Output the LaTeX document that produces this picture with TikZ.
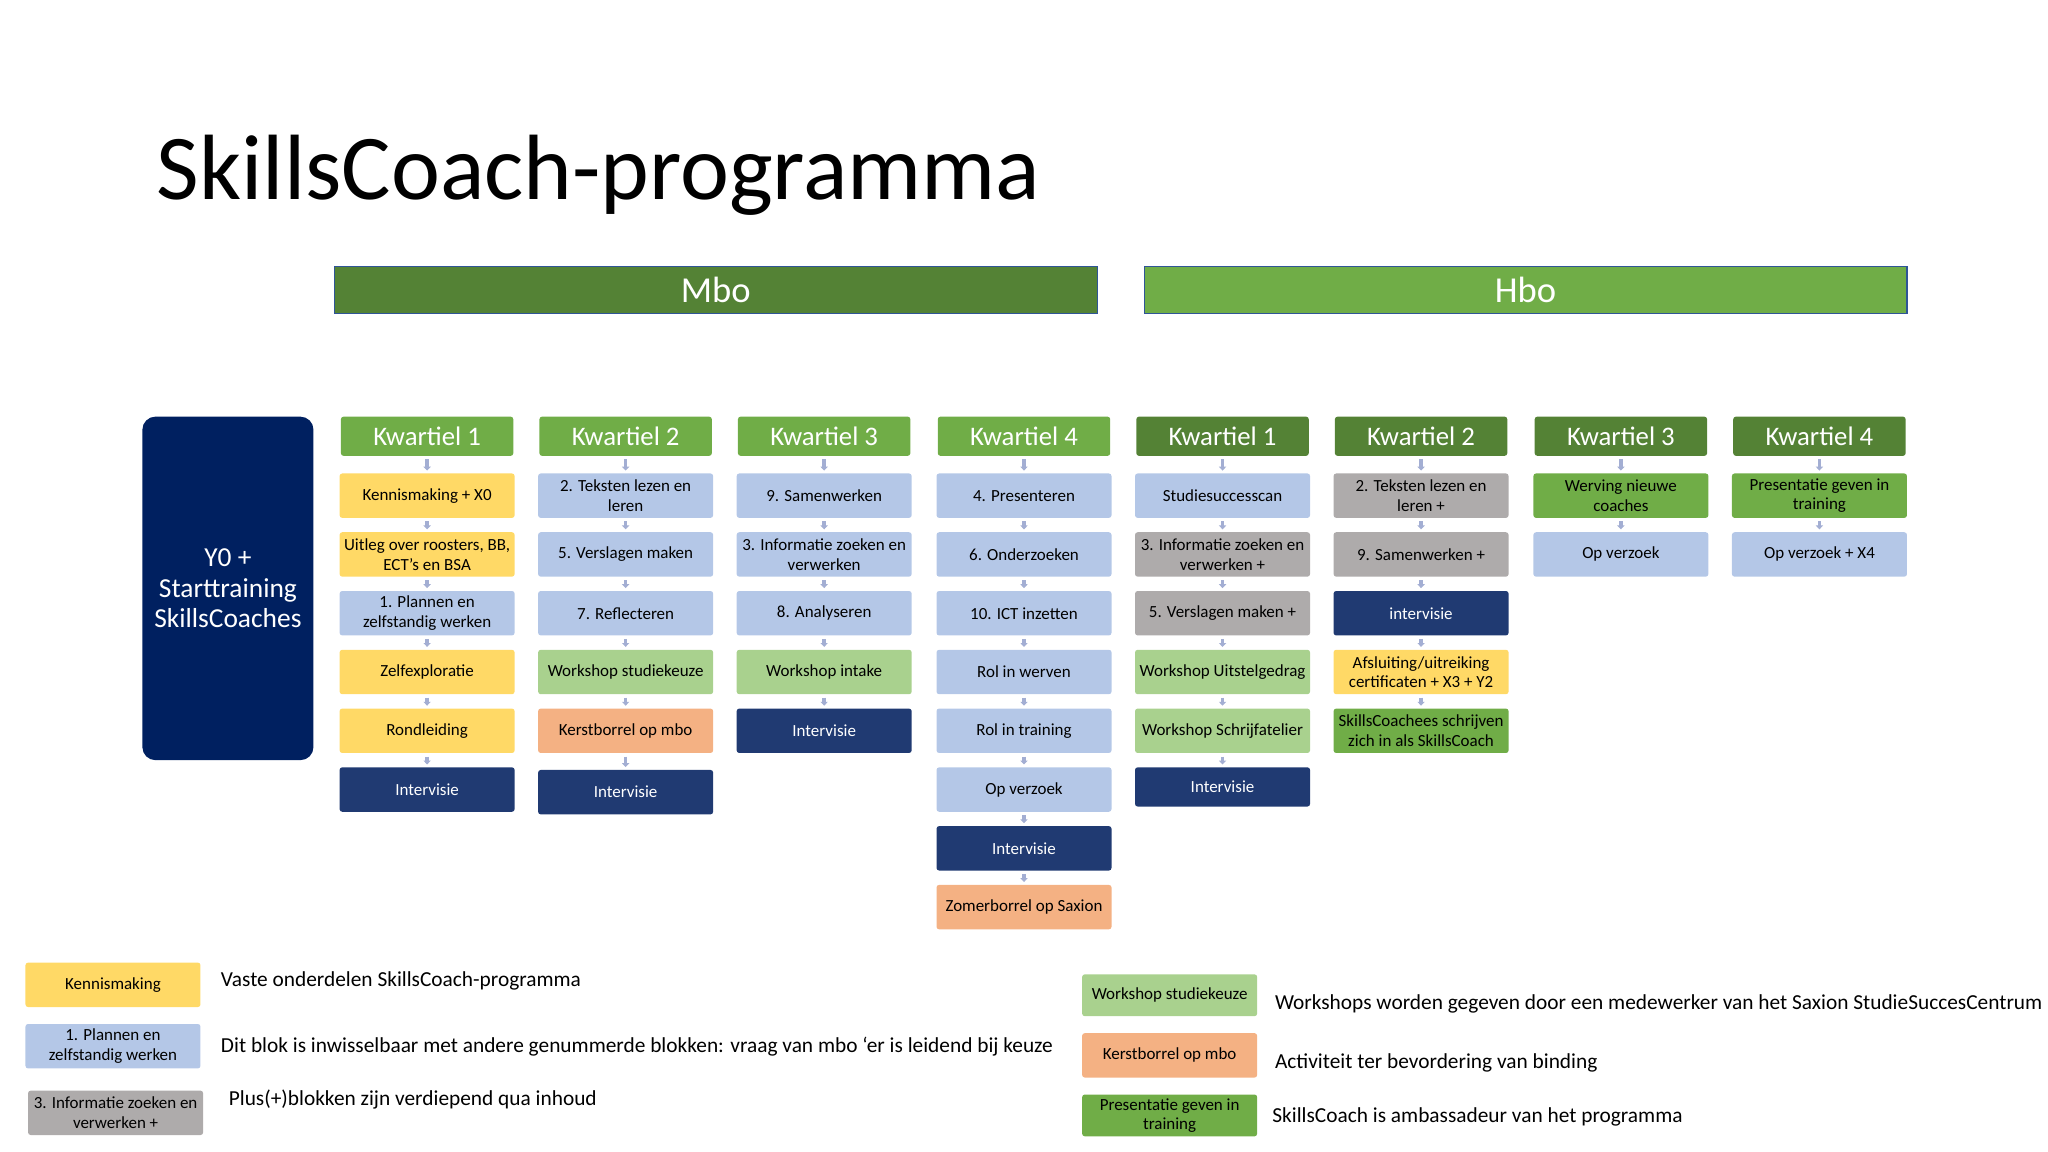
\documentclass[tikz,border=0pt]{standalone}
\usepackage{fontspec}
\setmainfont{Carlito}
\usetikzlibrary{arrows.meta}

\definecolor{geel}{HTML}{FFD966}
\definecolor{blauw}{HTML}{B4C7E7}
\definecolor{grijs}{HTML}{AEABAB}
\definecolor{lichtgroen}{HTML}{A9D18E}
\definecolor{zalm}{HTML}{F4B183}
\definecolor{groen}{HTML}{70AD47}
\definecolor{donkergroen}{HTML}{548235}
\definecolor{donkerblauw}{HTML}{203A72}
\definecolor{marine}{HTML}{002060}
\definecolor{pijlkleur}{HTML}{A3AED3}
\definecolor{rand}{HTML}{2F5597}

\tikzset{
  blok/.style={rectangle, rounded corners=2pt, minimum width=134pt, minimum height=34pt,
    inner sep=1pt, align=center, font=\fontsize{13}{15}\selectfont},
  intervisie/.style={blok, fill=donkerblauw, text=white},
  kop/.style={rectangle, rounded corners=2pt, minimum width=132pt, minimum height=30pt,
    inner sep=1pt, text=white, font=\fontsize{20.5}{22}\selectfont},
  balk/.style={rectangle, draw=rand, line width=1pt, minimum width=584pt, minimum height=36pt,
    text=white, font=\fontsize{28}{30}\selectfont},
  pijl/.style={pijlkleur, line width=2.6pt, -{Triangle[width=5.5pt,length=3pt]},
    shorten <=2.5pt, shorten >=2pt},
  uitleg/.style={anchor=west, inner sep=0pt, font=\fontsize{16.35}{18}\selectfont}
}

\begin{document}
\begin{tikzpicture}[x=1pt,y=-1pt]
    \useasboundingbox (0,0) rectangle (1568,882);

    % Titel
    \node[anchor=base west, inner sep=0pt, font=\fontsize{71}{80}\selectfont] (titel) at (120,153) {SkillsCoach-programma};

    % Mbo en Hbo
    \node[balk, fill=donkergroen] (mbo) at (548,222) {Mbo};
    \node[balk, fill=groen] (hbo) at (1168,222) {Hbo};

    % Startblok
    \node[rectangle, rounded corners=10pt, fill=marine, minimum width=131pt, minimum height=263pt,
        text=white, align=center, font=\fontsize{21}{23.5}\selectfont] (start) at (174.5,450.5)
        {Y0 +\\Starttraining\\SkillsCoaches};

    % Mbo kwartiel 1
    \node[kop, fill=groen] (mk1) at (327,334) {Kwartiel 1};
    \node[blok, fill=geel] (m1a) at (327,379.5) {Kennismaking + X0};
    \node[blok, fill=geel] (m1b) at (327,424.5) {Uitleg over roosters, BB,\\ECT's en BSA};
    \node[blok, fill=blauw] (m1c) at (327,469.5) {1. Plannen en\\zelfstandig werken};
    \node[blok, fill=geel] (m1d) at (327,514.5) {Zelfexploratie};
    \node[blok, fill=geel] (m1e) at (327,559.5) {Rondleiding};
    \node[intervisie] (m1f) at (327,604.5) {Intervisie};
    \draw[pijl] (mk1) -- (m1a);
    \draw[pijl] (m1a) -- (m1b);
    \draw[pijl] (m1b) -- (m1c);
    \draw[pijl] (m1c) -- (m1d);
    \draw[pijl] (m1d) -- (m1e);
    \draw[pijl] (m1e) -- (m1f);

    % Mbo kwartiel 2
    \node[kop, fill=groen] (mk2) at (479,334) {Kwartiel 2};
    \node[blok, fill=blauw] (m2a) at (479,379.5) {2. Teksten lezen en\\leren};
    \node[blok, fill=blauw] (m2b) at (479,424.5) {5. Verslagen maken};
    \node[blok, fill=blauw] (m2c) at (479,469.5) {7. Reflecteren};
    \node[blok, fill=lichtgroen] (m2d) at (479,514.5) {Workshop studiekeuze};
    \node[blok, fill=zalm] (m2e) at (479,559.5) {Kerstborrel op mbo};
    \node[intervisie] (m2f) at (479,606.5) {Intervisie};
    \draw[pijl] (mk2) -- (m2a);
    \draw[pijl] (m2a) -- (m2b);
    \draw[pijl] (m2b) -- (m2c);
    \draw[pijl] (m2c) -- (m2d);
    \draw[pijl] (m2d) -- (m2e);
    \draw[pijl] (m2e) -- (m2f);

    % Mbo kwartiel 3
    \node[kop, fill=groen] (mk3) at (631,334) {Kwartiel 3};
    \node[blok, fill=blauw] (m3a) at (631,379.5) {9. Samenwerken};
    \node[blok, fill=blauw] (m3b) at (631,424.5) {3. Informatie zoeken en\\verwerken};
    \node[blok, fill=blauw] (m3c) at (631,469.5) {8. Analyseren};
    \node[blok, fill=lichtgroen] (m3d) at (631,514.5) {Workshop intake};
    \node[intervisie] (m3e) at (631,559.5) {Intervisie};
    \draw[pijl] (mk3) -- (m3a);
    \draw[pijl] (m3a) -- (m3b);
    \draw[pijl] (m3b) -- (m3c);
    \draw[pijl] (m3c) -- (m3d);
    \draw[pijl] (m3d) -- (m3e);

    % Mbo kwartiel 4
    \node[kop, fill=groen] (mk4) at (784,334) {Kwartiel 4};
    \node[blok, fill=blauw] (m4a) at (784,379.5) {4. Presenteren};
    \node[blok, fill=blauw] (m4b) at (784,424.5) {6. Onderzoeken};
    \node[blok, fill=blauw] (m4c) at (784,469.5) {10. ICT inzetten};
    \node[blok, fill=blauw] (m4d) at (784,514.5) {Rol in werven};
    \node[blok, fill=blauw] (m4e) at (784,559.5) {Rol in training};
    \node[blok, fill=blauw] (m4f) at (784,604.5) {Op verzoek};
    \node[intervisie] (m4g) at (784,649.5) {Intervisie};
    \node[blok, fill=zalm] (m4h) at (784,694.5) {Zomerborrel op Saxion};
    \draw[pijl] (mk4) -- (m4a);
    \draw[pijl] (m4a) -- (m4b);
    \draw[pijl] (m4b) -- (m4c);
    \draw[pijl] (m4c) -- (m4d);
    \draw[pijl] (m4d) -- (m4e);
    \draw[pijl] (m4e) -- (m4f);
    \draw[pijl] (m4f) -- (m4g);
    \draw[pijl] (m4g) -- (m4h);

    % Hbo kwartiel 1
    \node[kop, fill=donkergroen] (hk1) at (936,334) {Kwartiel 1};
    \node[blok, fill=blauw] (h1a) at (936,379.5) {Studiesuccesscan};
    \node[blok, fill=grijs] (h1b) at (936,424.5) {3. Informatie zoeken en\\verwerken +};
    \node[blok, fill=grijs] (h1c) at (936,469.5) {5. Verslagen maken +};
    \node[blok, fill=lichtgroen] (h1d) at (936,514.5) {Workshop Uitstelgedrag};
    \node[blok, fill=lichtgroen] (h1e) at (936,559.5) {Workshop Schrijfatelier};
    \node[intervisie, minimum height=30pt] (h1f) at (936,602.5) {Intervisie};
    \draw[pijl] (hk1) -- (h1a);
    \draw[pijl] (h1a) -- (h1b);
    \draw[pijl] (h1b) -- (h1c);
    \draw[pijl] (h1c) -- (h1d);
    \draw[pijl] (h1d) -- (h1e);
    \draw[pijl] (h1e) -- (h1f);

    % Hbo kwartiel 2
    \node[kop, fill=donkergroen] (hk2) at (1088,334) {Kwartiel 2};
    \node[blok, fill=grijs] (h2a) at (1088,379.5) {2. Teksten lezen en\\leren +};
    \node[blok, fill=grijs] (h2b) at (1088,424.5) {9. Samenwerken +};
    \node[intervisie] (h2c) at (1088,469.5) {intervisie};
    \node[blok, fill=geel] (h2d) at (1088,514.5) {Afsluiting/uitreiking\\certificaten + X3 + Y2};
    \node[blok, fill=groen] (h2e) at (1088,559.5) {SkillsCoachees schrijven\\zich in als SkillsCoach};
    \draw[pijl] (hk2) -- (h2a);
    \draw[pijl] (h2a) -- (h2b);
    \draw[pijl] (h2b) -- (h2c);
    \draw[pijl] (h2c) -- (h2d);
    \draw[pijl] (h2d) -- (h2e);

    % Hbo kwartiel 3
    \node[kop, fill=donkergroen] (hk3) at (1241,334) {Kwartiel 3};
    \node[blok, fill=groen] (h3a) at (1241,379.5) {Werving nieuwe\\coaches};
    \node[blok, fill=blauw] (h3b) at (1241,424.5) {Op verzoek};
    \draw[pijl] (hk3) -- (h3a);
    \draw[pijl] (h3a) -- (h3b);

    % Hbo kwartiel 4
    \node[kop, fill=donkergroen] (hk4) at (1393,334) {Kwartiel 4};
    \node[blok, fill=groen] (h4a) at (1393,379.5) {Presentatie geven in\\training};
    \node[blok, fill=blauw] (h4b) at (1393,424.5) {Op verzoek + X4};
    \draw[pijl] (hk4) -- (h4a);
    \draw[pijl] (h4a) -- (h4b);

    % Legenda links
    \node[blok, fill=geel] (lg1) at (86.5,754) {Kennismaking};
    \node[blok, fill=blauw] (lg2) at (86.5,801) {1. Plannen en\\zelfstandig werken};
    \node[blok, fill=grijs] (lg3) at (88.5,852) {3. Informatie zoeken en\\verwerken +};
    \node[uitleg] (ut1) at (169,751) {Vaste onderdelen SkillsCoach-programma};
    \node[uitleg] (ut2) at (169,801) {Dit blok is inwisselbaar met andere genummerde blokken: vraag van mbo ‘er is leidend bij keuze};
    \node[uitleg] (ut3) at (175,842) {Plus(+)blokken zijn verdiepend qua inhoud};

    % Legenda rechts
    \node[blok, fill=lichtgroen, minimum height=32pt] (lg4) at (895.5,762) {Workshop studiekeuze};
    \node[blok, fill=zalm] (lg5) at (895.5,808) {Kerstborrel op mbo};
    \node[blok, fill=groen, minimum height=32pt] (lg6) at (895.5,854) {Presentatie geven in\\training};
    \node[uitleg] (ut4) at (976,769) {Workshops worden gegeven door een medewerker van het Saxion StudieSuccesCentrum};
    \node[uitleg] (ut5) at (976,814) {Activiteit ter bevordering van binding};
    \node[uitleg] (ut6) at (974,855) {SkillsCoach is ambassadeur van het programma};
\end{tikzpicture}
\end{document}
